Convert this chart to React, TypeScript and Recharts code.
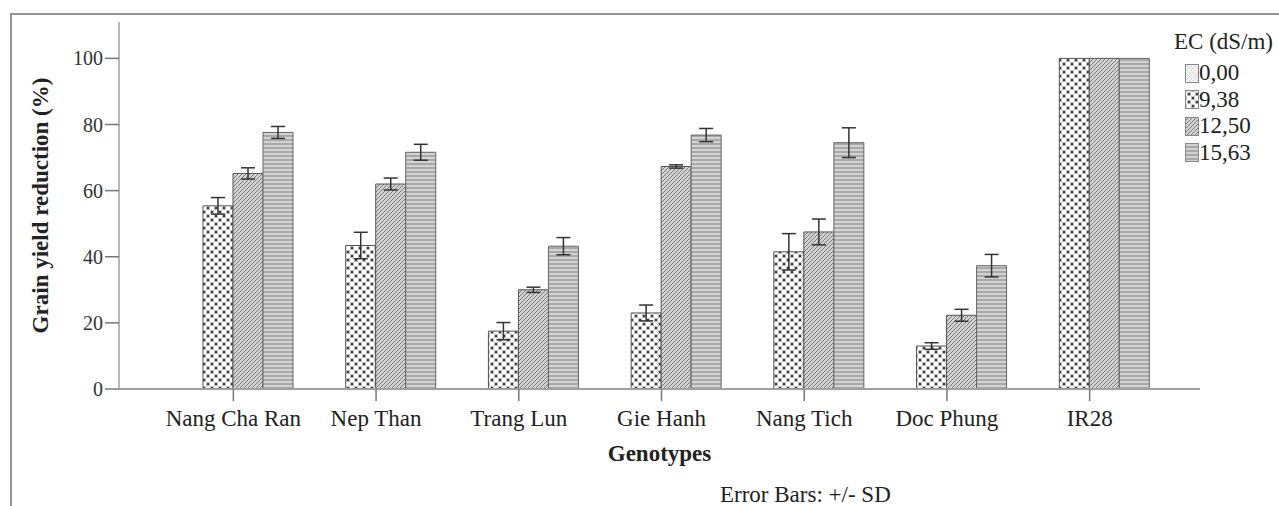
import React from 'react';
import { BarChart, Bar, XAxis, YAxis, ErrorBar } from 'recharts';

const categories = ['Nang Cha Ran', 'Nep Than', 'Trang Lun', 'Gie Hanh', 'Nang Tich', 'Doc Phung', 'IR28'];
const ec000 = [0, 0, 0, 0, 0, 0, 0];
const ec938 = [55.4, 43.4, 17.5, 23.0, 41.5, 13.0, 100];
const ec938Sd = [2.5, 4.0, 2.6, 2.4, 5.5, 1.0, 0];
const ec1250 = [65.2, 62.0, 30.0, 67.3, 47.5, 22.3, 100];
const ec1250Sd = [1.7, 1.8, 0.8, 0.5, 3.9, 1.8, 0];
const ec1563 = [77.6, 71.6, 43.2, 76.8, 74.5, 37.3, 100];
const ec1563Sd = [1.8, 2.4, 2.6, 2.0, 4.5, 3.4, 0];
const yTicks = [0, 20, 40, 60, 80, 100];
const legendLabels = ['0,00', '9,38', '12,50', '15,63'];
const patternIds = ['p0', 'p1', 'p2', 'p3'];

const data = categories.map((name, i) => ({
  name,
  v0: ec000[i],
  v1: ec938[i],
  e1: ec938Sd[i],
  v2: ec1250[i],
  e2: ec1250Sd[i],
  v3: ec1563[i],
  e3: ec1563Sd[i],
}));

const SERIF = '"Liberation Serif", "Times New Roman", serif';

function Patterns() {
  return (
    <defs>
      <pattern id="p0" width="4" height="4" patternUnits="userSpaceOnUse">
        <rect width="4" height="4" fill="#f2f2f2" />
        <rect x="0" y="0" width="1" height="1" fill="#c8c8c8" />
        <rect x="2" y="2" width="1" height="1" fill="#c8c8c8" />
      </pattern>
      <pattern id="p1" width="8" height="8" patternUnits="userSpaceOnUse">
        <rect width="8" height="8" fill="#ffffff" />
        <path d="M0,0 L8,8 M8,0 L0,8" stroke="#b5b5b5" strokeWidth="0.8" />
        <circle cx="0" cy="0" r="1.5" fill="#3c3c3c" />
        <circle cx="8" cy="0" r="1.5" fill="#3c3c3c" />
        <circle cx="0" cy="8" r="1.5" fill="#3c3c3c" />
        <circle cx="8" cy="8" r="1.5" fill="#3c3c3c" />
        <circle cx="4" cy="4" r="1.5" fill="#3c3c3c" />
      </pattern>
      <pattern id="p2" width="4" height="4" patternUnits="userSpaceOnUse">
        <rect width="4" height="4" fill="#d2d2d2" />
        <path d="M-1,1 l2,-2 M0,4 l4,-4 M3,5 l2,-2" stroke="#7c7c7c" strokeWidth="1" />
      </pattern>
      <pattern id="p3" width="4" height="4" patternUnits="userSpaceOnUse">
        <rect width="4" height="4" fill="#a8a8a8" />
        <line x1="0" y1="2" x2="4" y2="2" stroke="#e6e6e6" strokeWidth="1.4" />
      </pattern>
    </defs>
  );
}

function LegendBox() {
  return (
    <div style={{ position: 'absolute', left: 1174, top: 28, fontFamily: SERIF, color: '#222' }}>
      <div style={{ fontSize: 23, lineHeight: '28px', whiteSpace: 'nowrap' }}>EC (dS/m)</div>
      <div style={{ marginTop: 4 }}>
        {legendLabels.map((lab, i) => (
          <div key={lab} style={{ display: 'flex', alignItems: 'center', height: 26.5, marginLeft: 11 }}>
            <svg width="14" height="19" style={{ display: 'block' }}>
              <Patterns />
              <defs>
                <pattern id={`${patternIds[i]}L`} href={`#${patternIds[i]}`} />
              </defs>
              <rect x="0.5" y="0.5" width="13" height="18" fill={`url(#${patternIds[i]}L)`} stroke="#888" />
            </svg>
            <span style={{ fontSize: 23, lineHeight: '26px', marginLeft: 0, whiteSpace: 'nowrap' }}>{lab}</span>
          </div>
        ))}
      </div>
    </div>
  );
}

export default function App() {
  return (
    <div style={{ position: 'absolute', left: 0, top: 0, width: 1279, height: 506, background: '#fff', overflow: 'hidden' }}>
      <div
        style={{
          position: 'absolute',
          left: 10,
          top: 13,
          width: 1400,
          height: 700,
          borderLeft: '2px solid #959595',
          borderTop: '2px solid #959595',
        }}
      />
      <BarChart
        width={1279}
        height={506}
        data={data}
        margin={{ top: 22, right: 79, bottom: 45, left: 29 }}
        barSize={30}
        barGap={0}
        style={{ fontFamily: SERIF }}
      >
        <Patterns />
        <XAxis
          dataKey="name"
          height={72}
          padding={{ left: 43, right: 39 }}
          stroke="#a0a0a0"
          strokeWidth={2}
          tickSize={12}
          tickMargin={9}
          tick={{ fontSize: 23, fill: '#222', fontFamily: SERIF }}
          tickLine={{ stroke: '#777', strokeWidth: 1.5 }}
          interval={0}
          label={{
            value: 'Genotypes',
            position: 'insideBottom',
            offset: 0,
            style: { fontSize: 23, fontWeight: 'bold', fill: '#222', fontFamily: SERIF },
          }}
        />
        <YAxis
          width={90}
          domain={[0, 111]}
          ticks={yTicks}
          allowDataOverflow
          stroke="#a0a0a0"
          strokeWidth={1.5}
          tickSize={14}
          tickMargin={2}
          tick={{ fontSize: 20, fill: '#333', fontFamily: SERIF }}
          tickLine={{ stroke: '#777', strokeWidth: 1.5 }}
          label={{
            value: 'Grain yield reduction (%)',
            angle: -90,
            position: 'insideLeft',
            offset: 11,
            style: { textAnchor: 'middle', fontSize: 23, fontWeight: 'bold', fill: '#222', fontFamily: SERIF },
          }}
        />
        <Bar dataKey="v0" fill="url(#p0)" stroke="#777" strokeWidth={1} isAnimationActive={false} />
        <Bar dataKey="v1" fill="url(#p1)" stroke="#555" strokeWidth={1} isAnimationActive={false}>
          <ErrorBar dataKey="e1" width={7} stroke="#333" strokeWidth={1.5} />
        </Bar>
        <Bar dataKey="v2" fill="url(#p2)" stroke="#555" strokeWidth={1} isAnimationActive={false}>
          <ErrorBar dataKey="e2" width={7} stroke="#333" strokeWidth={1.5} />
        </Bar>
        <Bar dataKey="v3" fill="url(#p3)" stroke="#666" strokeWidth={1} isAnimationActive={false}>
          <ErrorBar dataKey="e3" width={7} stroke="#333" strokeWidth={1.5} />
        </Bar>
      </BarChart>
      <LegendBox />
      <div
        style={{
          position: 'absolute',
          left: 720,
          top: 481,
          fontFamily: SERIF,
          fontSize: 23,
          lineHeight: '28px',
          color: '#222',
          whiteSpace: 'nowrap',
        }}
      >
        Error Bars: +/- SD
      </div>
    </div>
  );
}
